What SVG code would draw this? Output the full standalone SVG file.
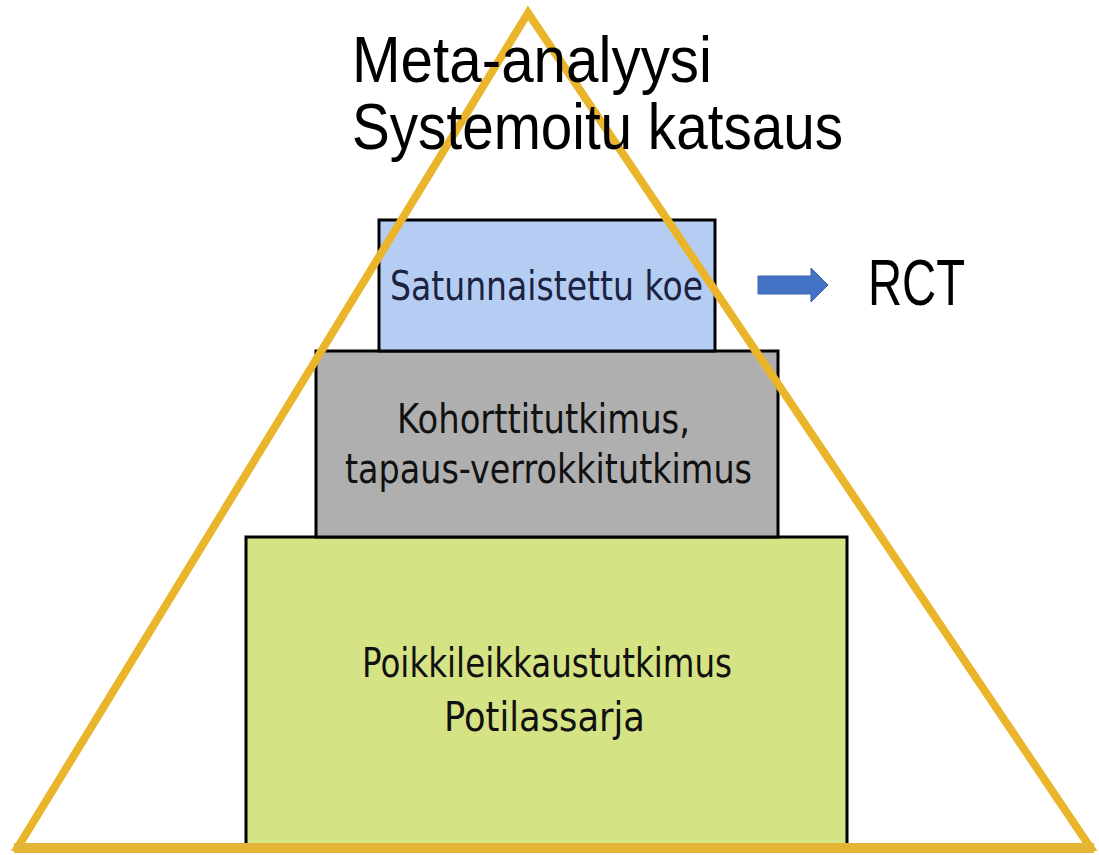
<svg xmlns="http://www.w3.org/2000/svg" width="1099" height="855" viewBox="0 0 1099 855">
<style>
.box{stroke:#000;stroke-width:3}
.title{font-family:"Liberation Sans",Arial,sans-serif;font-size:65px;fill:#000}
.lbl{font-family:"DejaVu Sans","Liberation Sans",sans-serif;font-size:41px;fill:#111;text-anchor:start}
</style>
<rect width="1099" height="855" fill="#fff"/>
<g id="level3">
<rect class="box" x="246" y="537" width="601" height="311" fill="#D6E384"/>
<text class="lbl" x="362" y="677" textLength="370" lengthAdjust="spacingAndGlyphs">Poikkileikkaustutkimus</text>
<text class="lbl" x="444" y="731" textLength="201" lengthAdjust="spacingAndGlyphs">Potilassarja</text>
</g>
<g id="level2">
<rect class="box" x="316" y="351" width="462" height="186" fill="#AFAFAF"/>
<text class="lbl" x="397" y="433" textLength="293" lengthAdjust="spacingAndGlyphs">Kohorttitutkimus,</text>
<text class="lbl" x="345" y="483" textLength="407" lengthAdjust="spacingAndGlyphs">tapaus-verrokkitutkimus</text>
</g>
<g id="level1">
<rect class="box" x="379" y="220" width="336" height="131" fill="#B5CDF3"/>
<text class="lbl" x="390" y="300" textLength="313" lengthAdjust="spacingAndGlyphs" style="fill:#1B2340">Satunnaistettu koe</text>
</g>
<g id="pyramid">
<path d="M528,13 L18,847 L1090,847 Z" fill="none" stroke="#EAB52A" stroke-width="8" stroke-linejoin="miter"/>
<line x1="14" y1="848" x2="1094" y2="848" stroke="#E4B436" stroke-width="10"/>
</g>
<g id="title">
<text class="title" x="352" y="82" textLength="360" lengthAdjust="spacingAndGlyphs">Meta-analyysi</text>
<text class="title" x="352" y="149" textLength="491" lengthAdjust="spacingAndGlyphs">Systemoitu katsaus</text>
</g>
<g id="connectors">
<path d="M758,276 L811,276 L811,268 L828,285 L811,302 L811,294 L758,294 Z" fill="#4472C4" stroke="#3A62AA" stroke-width="1"/>
</g>
<g id="rct">
<text class="title" x="868" y="305" textLength="97" lengthAdjust="spacingAndGlyphs">RCT</text>
</g>
</svg>
